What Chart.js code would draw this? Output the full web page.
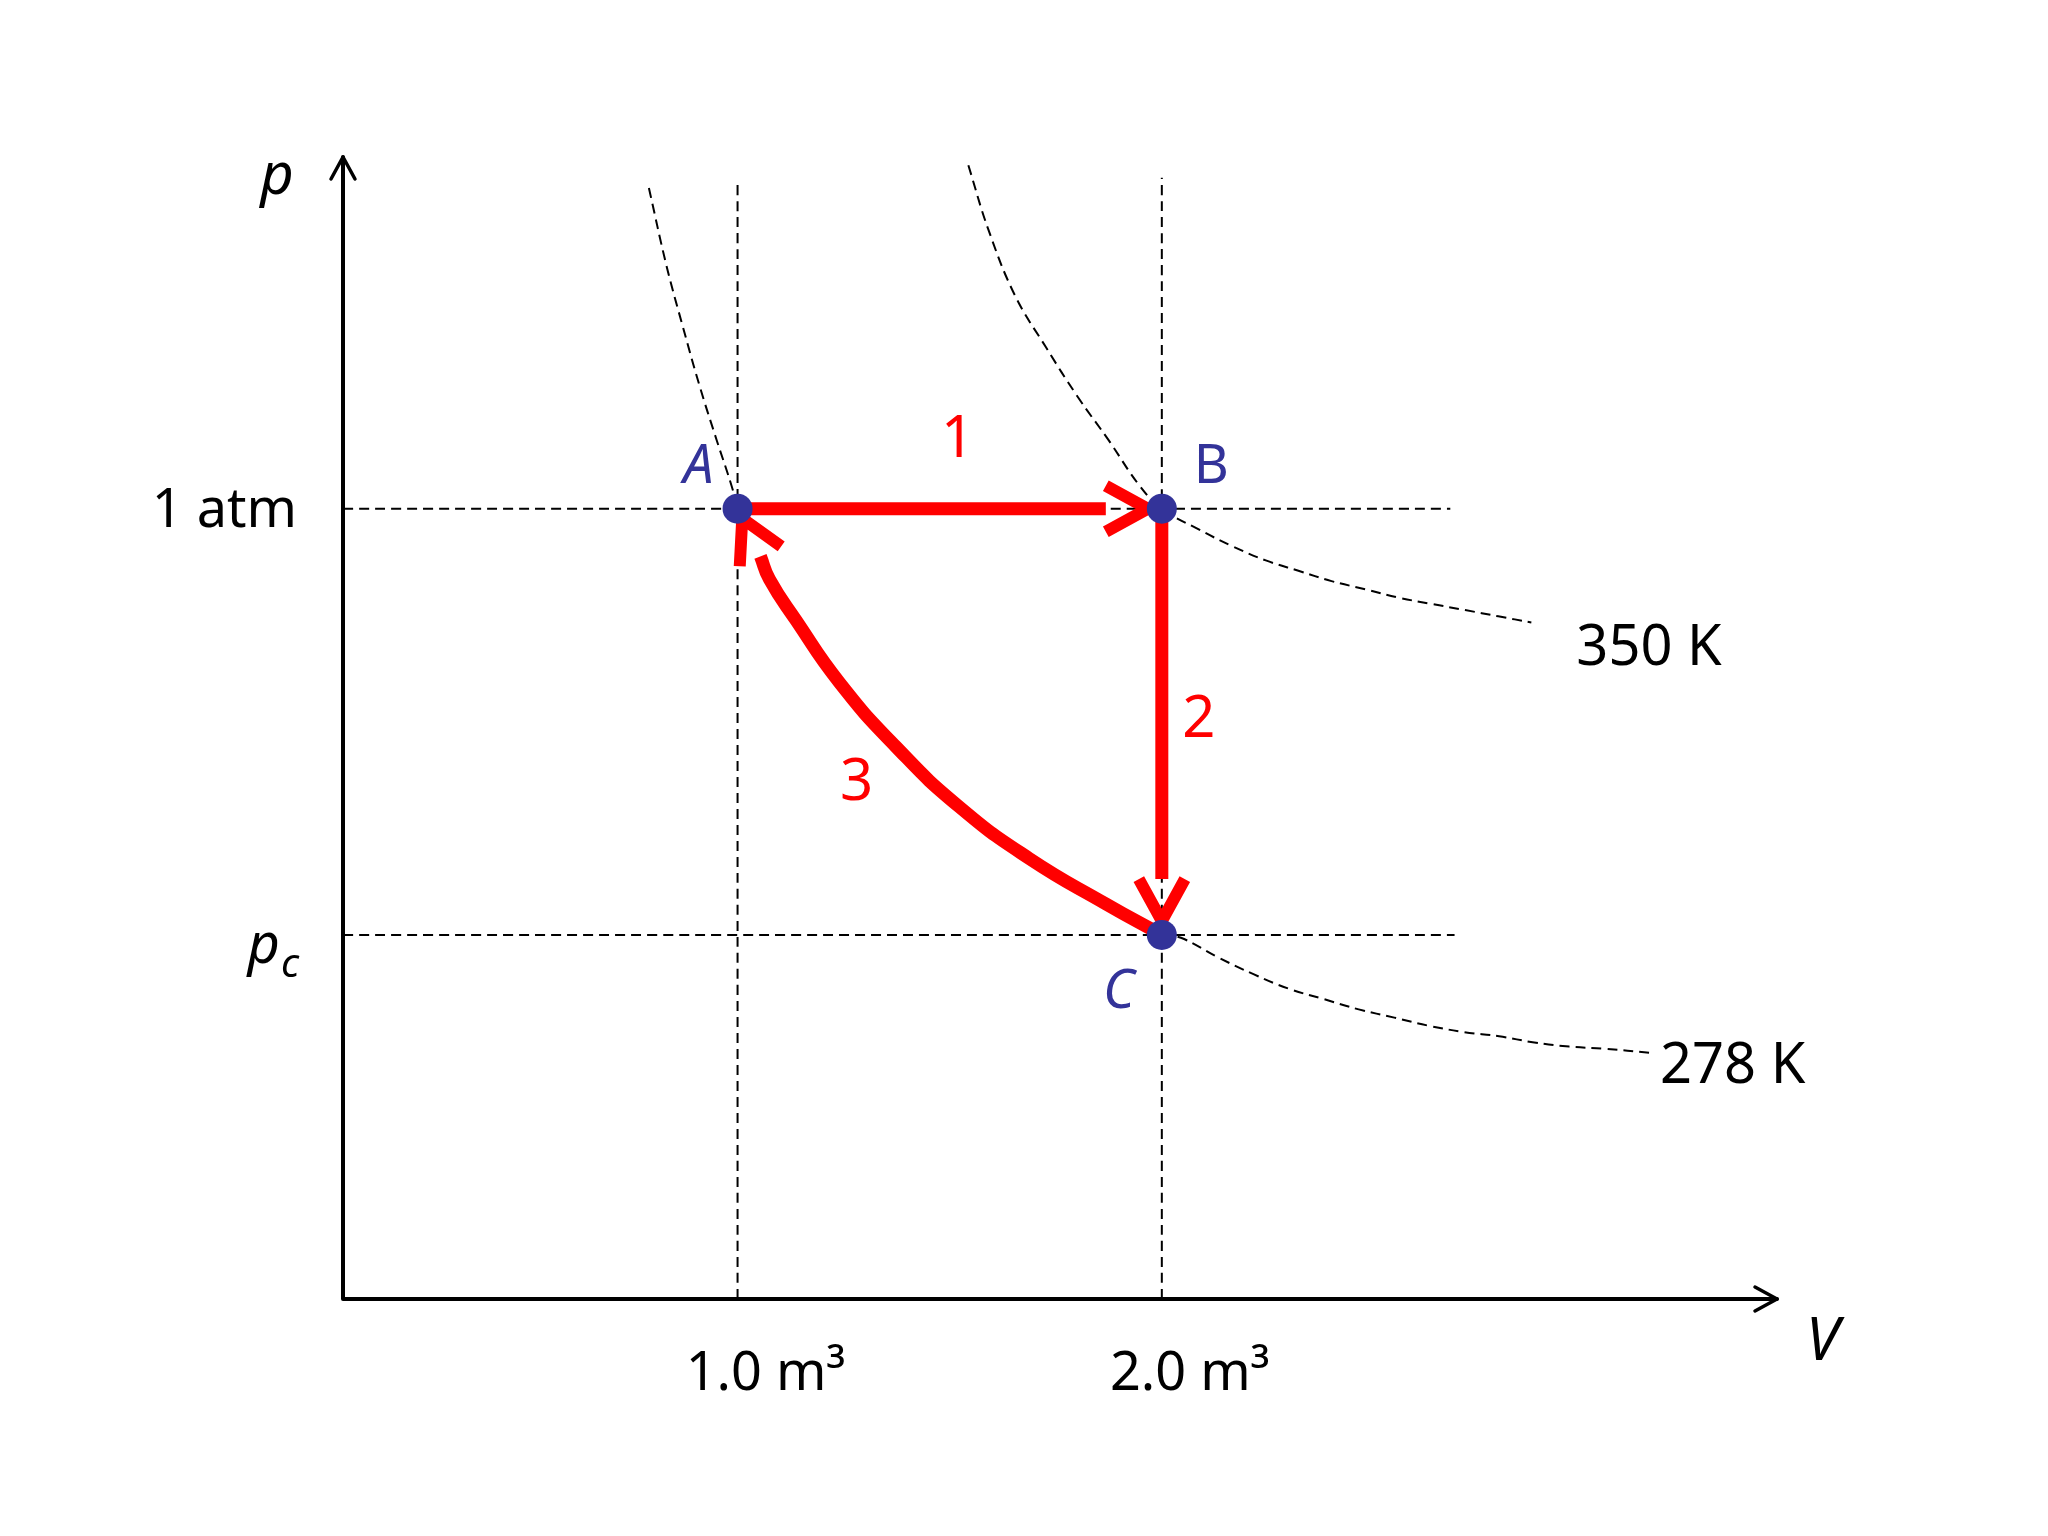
<!DOCTYPE html>
<html>
<head>
<meta charset="utf-8">
<title>p-V cycle</title>
<script src="https://cdn.jsdelivr.net/npm/chart.js@4.4.0/dist/chart.umd.min.js"></script>
<style>
  html, body { margin: 0; padding: 0; background: #fff; }
  #wrap { width: 2048px; height: 1536px; }
</style>
</head>
<body>
<div id="wrap"><canvas id="pvChart" width="2048" height="1536"></canvas></div>
<script>
// axis ranges, V in m³ and p in atm (sketch)
const vRange = [0.07, 3.45];
const pRange = [0.618, 1.170];
const vTicks = [1.0, 2.0];
const vTickLabels = ['1.0 m³', '2.0 m³'];
const pTicks = [1.0, 0.794];
const pTickLabels = ['1 atm', 'p_c'];

// states A, B, C
const stateNames = ['A', 'B', 'C'];
const stateV = [1.0, 2.0, 2.0];
const stateP = [1.0, 1.0, 0.794];

// dashed guide lines: top end of the vertical ones, right end of the horizontal ones
const guideVTop = [1.158, 1.160];
const guidePRight = [2.68, 2.69];

// process 1 (A -> B), 2 (B -> C), 3 (C -> A); shafts stop at the arrowhead
const pathLabels = ['1', '2', '3'];
const path1V = [1.0, 1.868];
const path1P = [1.0, 1.0];
const path2V = [2.0, 2.0];
const path2P = [1.0, 0.821];
const path3V = [2.0, 1.868, 1.687, 1.522, 1.373, 1.24, 1.138, 1.075, 1.054];
const path3P = [0.794, 0.809, 0.831, 0.856, 0.885, 0.916, 0.946, 0.966, 0.977];

// isotherms (dashed)
const isoAV = [0.791, 0.833, 0.871, 0.911, 0.951, 0.986, 1.0];
const isoAP = [1.155, 1.117, 1.088, 1.059, 1.033, 1.011, 1.0];
const iso350Label = '350 K';
const iso350V = [1.544, 1.591, 1.654, 1.727, 1.802, 1.875, 1.948, 2.0, 2.087, 2.165, 2.245, 2.322, 2.4, 2.48, 2.558, 2.635, 2.715, 2.793, 2.871];
const iso350P = [1.166, 1.135, 1.103, 1.078, 1.054, 1.033, 1.011, 1.0, 0.990, 0.982, 0.975, 0.970, 0.965, 0.961, 0.957, 0.954, 0.951, 0.948, 0.945];
const iso278Label = '278 K';
const iso278V = [2.0, 2.045, 2.134, 2.216, 2.299, 2.381, 2.464, 2.548, 2.631, 2.713, 2.795, 2.878, 2.96, 3.042, 3.153];
const iso278P = [0.794, 0.7926, 0.783, 0.775, 0.768, 0.763, 0.758, 0.754, 0.750, 0.747, 0.745, 0.742, 0.740, 0.739, 0.737];

const FONT = '"Noto Sans", "DejaVu Sans", sans-serif';
const RED = '#ff0000';
const BLUE = '#333399';

function pts(xs, ys) {
  return xs.map((x, i) => ({ x: x, y: ys[i] }));
}

function dashed(data) {
  return {
    data: data,
    borderColor: '#000',
    borderWidth: 2,
    borderDash: [10, 6],
    pointRadius: 0,
    tension: 0.4,
    order: 3
  };
}

function redPath(data, target) {
  return {
    data: data,
    borderColor: RED,
    borderWidth: 13,
    borderCapStyle: 'butt',
    borderJoinStyle: 'round',
    pointRadius: 0,
    tension: 0.5,
    order: 1,
    arrowTo: target
  };
}

const datasets = [];
// guides
vTicks.forEach((v, i) => datasets.push(dashed([{ x: v, y: pRange[0] }, { x: v, y: guideVTop[i] }])));
pTicks.forEach((p, i) => datasets.push(dashed([{ x: vRange[0], y: p }, { x: guidePRight[i], y: p }])));
// isotherms
datasets.push(dashed(pts(isoAV, isoAP)));
datasets.push(dashed(pts(iso350V, iso350P)));
datasets.push(dashed(pts(iso278V, iso278P)));
// processes
datasets.push(redPath(pts(path1V, path1P), 1));
datasets.push(redPath(pts(path2V, path2P), 2));
datasets.push(redPath(pts(path3V, path3P), 0));
// states
datasets.push({
  data: pts(stateV, stateP),
  showLine: false,
  pointRadius: 15,
  pointBackgroundColor: BLUE,
  pointBorderWidth: 0,
  order: 0
});

function px(chart, v) { return chart.scales.x.getPixelForValue(v); }
function py(chart, p) { return chart.scales.y.getPixelForValue(p); }

function openHead(ctx, tx, ty, dx, dy, len, half) {
  const nx = -dy, ny = dx;
  ctx.beginPath();
  ctx.moveTo(tx - dx * len + nx * half, ty - dy * len + ny * half);
  ctx.lineTo(tx, ty);
  ctx.lineTo(tx - dx * len - nx * half, ty - dy * len - ny * half);
  ctx.stroke();
}

function text(ctx, str, x, y, font, color, align) {
  ctx.font = font;
  ctx.fillStyle = color;
  ctx.textAlign = align || 'left';
  ctx.textBaseline = 'alphabetic';
  ctx.fillText(str, x, y);
}

const pvDecor = {
  id: 'pvDecor',
  beforeDatasetsDraw(chart) {
    const ctx = chart.ctx;
    const a = chart.chartArea;
    ctx.save();
    ctx.strokeStyle = '#000';
    ctx.lineCap = 'round';
    ctx.lineJoin = 'round';
    // axes
    ctx.lineWidth = 4;
    ctx.beginPath();
    ctx.moveTo(a.left, a.top);
    ctx.lineTo(a.left, a.bottom);
    ctx.lineTo(a.right, a.bottom);
    ctx.stroke();
    ctx.lineWidth = 3.5;
    openHead(ctx, a.left, a.top, 0, -1, 22, 12);
    openHead(ctx, a.right, a.bottom, 1, 0, 22, 12);
    ctx.restore();
  },
  afterDatasetDraw(chart, args) {
    const ds = chart.data.datasets[args.index];
    if (ds.arrowTo === undefined) return;
    const ctx = chart.ctx;
    const last = ds.data[ds.data.length - 1];
    const ex = px(chart, last.x), ey = py(chart, last.y);
    const tx = px(chart, stateV[ds.arrowTo]), ty = py(chart, stateP[ds.arrowTo]);
    let dx = tx - ex, dy = ty - ey;
    const d = Math.hypot(dx, dy);
    dx /= d; dy /= d;
    const len = 42;
    ctx.save();
    ctx.strokeStyle = RED;
    ctx.lineWidth = 12;
    ctx.lineCap = 'butt';
    ctx.lineJoin = 'miter';
    openHead(ctx, ex + dx * len, ey + dy * len, dx, dy, len, 23);
    ctx.restore();
  },
  afterDraw(chart) {
    const ctx = chart.ctx;
    const a = chart.chartArea;
    ctx.save();
    // axis titles
    text(ctx, 'p', a.left - 66, a.top + 37, 'italic 58px ' + FONT, '#000', 'center');
    text(ctx, 'V', a.right + 29, a.bottom + 61, 'italic 60px ' + FONT, '#000', 'left');
    // V ticks
    vTicks.forEach((v, i) => {
      text(ctx, vTickLabels[i], px(chart, v) + 28, a.bottom + 91, '54px ' + FONT, '#000', 'center');
    });
    // p ticks
    pTicks.forEach((p, i) => {
      const y = py(chart, p);
      const lab = pTickLabels[i];
      if (lab.indexOf('_') > 0) {
        const parts = lab.split('_');
        text(ctx, parts[0], a.left - 63, y + 28, 'italic 56px ' + FONT, '#000', 'right');
        text(ctx, parts[1], a.left - 62, y + 42, 'italic 40px ' + FONT, '#000', 'left');
      } else {
        text(ctx, lab, a.left - 46, y + 18, '54px ' + FONT, '#000', 'right');
      }
    });
    // state labels
    const sx = stateV.map(v => px(chart, v));
    const sy = stateP.map(p => py(chart, p));
    text(ctx, stateNames[0], sx[0] - 24, sy[0] - 26, 'italic 54px ' + FONT, BLUE, 'right');
    text(ctx, stateNames[1], sx[1] + 32, sy[1] - 26, '54px ' + FONT, BLUE, 'left');
    text(ctx, stateNames[2], sx[2] - 27, sy[2] + 73, 'italic 54px ' + FONT, BLUE, 'right');
    // process labels
    text(ctx, pathLabels[0], (sx[0] + sx[1]) / 2 + 8, sy[0] - 52, '58px ' + FONT, RED, 'center');
    text(ctx, pathLabels[1], sx[1] + 37, (sy[1] + sy[2]) / 2 + 15, '58px ' + FONT, RED, 'center');
    text(ctx, pathLabels[2], (sx[0] + sx[2]) / 2 - 93, (sy[0] + sy[2]) / 2 + 78, '58px ' + FONT, RED, 'center');
    // isotherm labels
    const n350 = iso350V.length - 1, n278 = iso278V.length - 1;
    text(ctx, iso350Label, px(chart, iso350V[n350]) + 45, py(chart, iso350P[n350]) + 43, '56px ' + FONT, '#000', 'left');
    text(ctx, iso278Label, px(chart, iso278V[n278]) + 9, py(chart, iso278P[n278]) + 30, '56px ' + FONT, '#000', 'left');
    ctx.restore();
  }
};

const ctx = document.getElementById('pvChart').getContext('2d');
const chart = new Chart(ctx, {
  type: 'line',
  data: { datasets: datasets },
  options: {
    responsive: false,
    animation: false,
    devicePixelRatio: 1,
    layout: { padding: { left: 343, top: 157, right: 271, bottom: 237 } },
    plugins: {
      legend: { display: false },
      tooltip: { enabled: false }
    },
    scales: {
      x: { type: 'linear', min: vRange[0], max: vRange[1], display: false },
      y: { type: 'linear', min: pRange[0], max: pRange[1], display: false }
    }
  },
  plugins: [pvDecor]
});
</script>
</body>
</html>
